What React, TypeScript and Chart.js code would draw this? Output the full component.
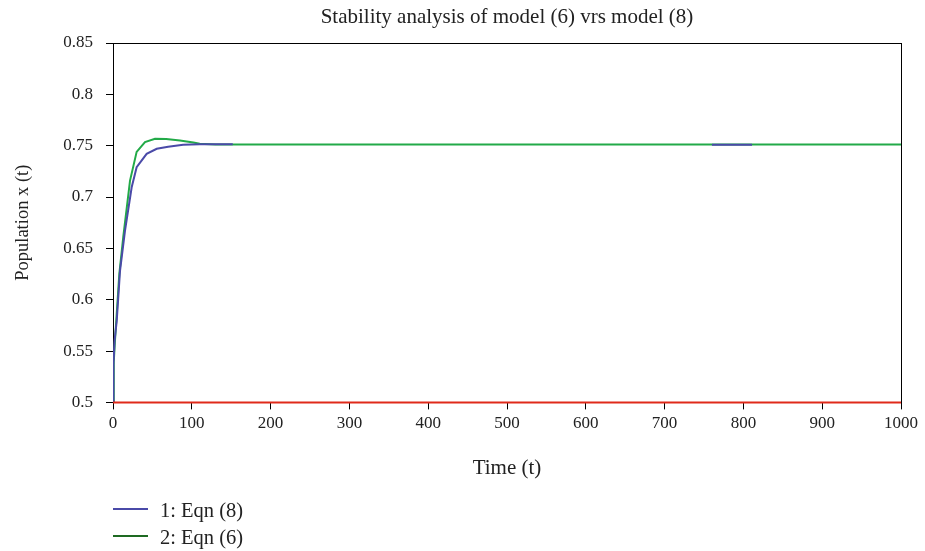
import React, { useEffect, useRef } from "react";
import { Chart, registerables } from "chart.js";

Chart.register(...registerables);

const titleText = "Stability analysis of model (6) vrs model (8)";
const xTitle = "Time (t)";
const yTitle = "Population x (t)";
const legendLabels = ["1: Eqn (8)", "2: Eqn (6)"];

const blueT = [0, 0.6, 2, 4.7, 8.9, 15.2, 23.7, 30, 42.7, 55.5, 70, 89, 110, 152, 153, 760, 811];
const blueV = [0.5, 0.537, 0.56, 0.579, 0.628, 0.667, 0.7095, 0.729, 0.742, 0.747, 0.749, 0.751, 0.7515, 0.7515, null, 0.751, 0.751];

const greenT = [0, 1, 2.5, 4.7, 8, 13, 21.6, 30, 40.6, 53.3, 67.5, 85, 102, 110, 130, 1000];
const greenV = [0.5, 0.54, 0.56, 0.586, 0.625, 0.661, 0.716, 0.744, 0.7535, 0.7568, 0.7565, 0.755, 0.753, 0.7518, 0.7512, 0.7512];

const redT = [0, 1000];
const redV = [0.5, 0.5];

const BLUE = "#4a4aa8";
const GREEN = "#22aa48";
const GREEN_LEGEND = "#1e6a22";
const RED = "#e02a1a";
const FONT = "'Liberation Serif', 'DejaVu Serif', serif";

const pts = (t: number[], v: (number | null)[]) => t.map((x, i) => ({ x, y: v[i] }));

const framePlugin = {
  id: "frame",
  afterDatasetsDraw(chart: any) {
    const { ctx, chartArea } = chart;
    ctx.save();
    ctx.strokeStyle = "#000";
    ctx.lineWidth = 1;
    ctx.beginPath();
    ctx.moveTo(chartArea.left, chartArea.top + 0.5);
    ctx.lineTo(chartArea.right, chartArea.top + 0.5);
    ctx.moveTo(chartArea.right + 0.5, chartArea.top);
    ctx.lineTo(chartArea.right + 0.5, chartArea.bottom);
    ctx.stroke();
    ctx.restore();
  },
};

export default function App() {
  const ref = useRef<HTMLCanvasElement>(null);
  useEffect(() => {
    document.body.style.margin = "0";
    const chart = new Chart(ref.current!, {
      type: "line",
      data: {
        datasets: [
          { data: pts(redT, redV), borderColor: RED, borderWidth: 2, pointRadius: 0, clip: 3 } as any,
          { data: pts(blueT, blueV), borderColor: BLUE, borderWidth: 2, pointRadius: 0, spanGaps: false } as any,
          { data: pts(greenT, greenV), borderColor: GREEN, borderWidth: 2, pointRadius: 0 } as any,
        ],
      },
      options: {
        animation: false,
        responsive: false,
        layout: { padding: { left: 12, right: 24, top: 0, bottom: 70 } },
        plugins: {
          legend: { display: false },
          tooltip: { enabled: false },
          title: {
            display: true,
            fullSize: false,
            text: titleText,
            color: "#222",
            font: { family: FONT, size: 21, weight: "normal" },
            padding: { top: 5, bottom: 12.8 },
          },
        },
        scales: {
          x: {
            type: "linear",
            min: 0,
            max: 1000,
            ticks: { stepSize: 100, color: "#222", padding: 4, font: { family: FONT, size: 17 }, callback: (v: any) => String(v) },
            grid: { drawOnChartArea: false, color: "#000", tickLength: 7 },
            border: { color: "#000", width: 1 },
            title: { display: true, text: xTitle, color: "#222", font: { family: FONT, size: 21 }, padding: { top: 18, bottom: 0 } },
          },
          y: {
            type: "linear",
            min: 0.5,
            max: 0.85,
            afterFit: (s: any) => { s.width = 101; },
            ticks: {
              stepSize: 0.05,
              color: "#222",
              padding: 13,
              font: { family: FONT, size: 17 },
              callback: (v: any) => String(Math.round(Number(v) * 100) / 100),
            },
            grid: { drawOnChartArea: false, color: "#000", tickLength: 7 },
            border: { color: "#000", width: 1 },
            title: { display: true, text: yTitle, color: "#222", font: { family: FONT, size: 18.5 }, padding: 0 },
          },
        },
      },
      plugins: [framePlugin],
    });
    return () => chart.destroy();
  }, []);

  const legendColors = [BLUE, GREEN_LEGEND];
  return (
    <div style={{ position: "absolute", left: 0, top: 0, width: 925, height: 551, background: "#fff" }}>
      <canvas ref={ref} width={925} height={551} style={{ display: "block" }} />
      {legendLabels.map((l, i) => (
        <div key={l} style={{ position: "absolute", left: 113, top: 497 + i * 27, height: 26, display: "flex", alignItems: "center", fontFamily: FONT, fontSize: 20.5, color: "#222" }}>
          <div style={{ width: 35, height: 0, borderTop: `2px solid ${legendColors[i]}`, marginRight: 12, marginTop: -2 }} />
          <span>{l}</span>
        </div>
      ))}
    </div>
  );
}
